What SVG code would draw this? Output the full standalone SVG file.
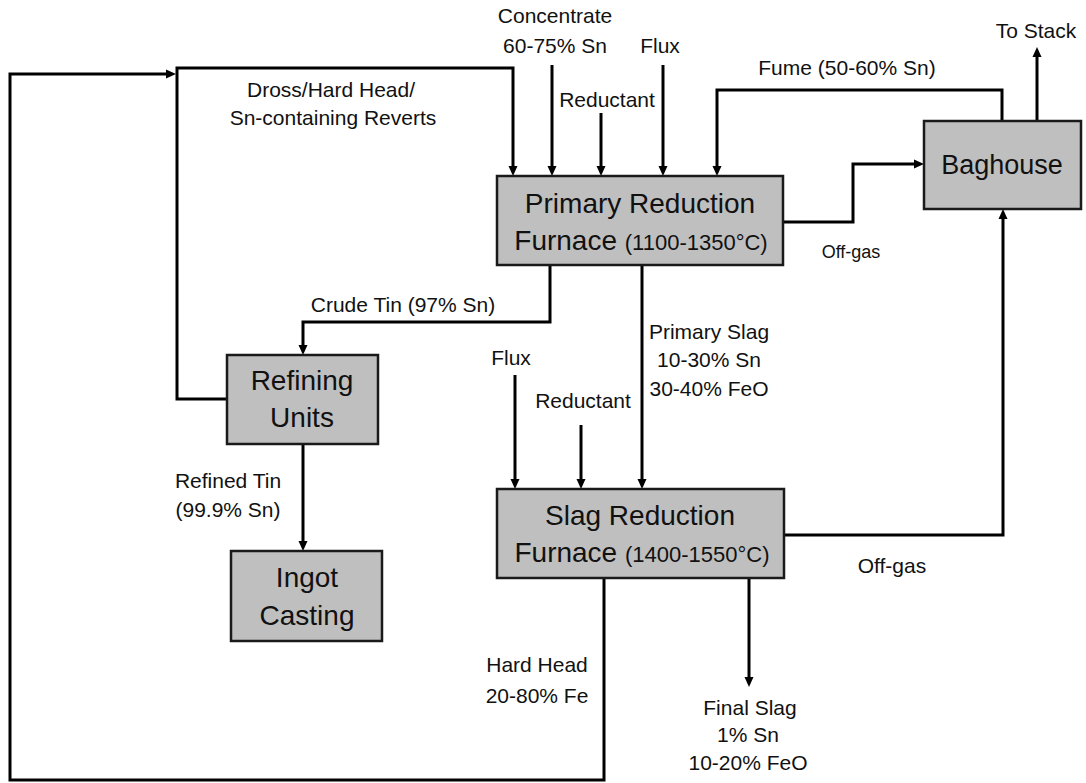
<svg xmlns="http://www.w3.org/2000/svg" width="1086" height="783" viewBox="0 0 1086 783">
<style>
.box{fill:#bfbfbf;stroke:#1a1a1a;stroke-width:2.5}
.t{font-family:"Liberation Sans",Arial,sans-serif;fill:#111;text-anchor:middle}
.bt{font-size:28px}
.sm{font-size:22px}
.lb{font-size:21px}
.og{font-size:18px}
.c{fill:none;stroke:#000;stroke-width:3;marker-end:url(#ah)}
.n{fill:none;stroke:#000;stroke-width:3}
</style>
<defs>
<marker id="ah" viewBox="0 0 10 10" refX="4" refY="5" markerWidth="10" markerHeight="10" markerUnits="userSpaceOnUse" orient="auto">
<path d="M0,0.5 L10,5 L0,9.5 z" fill="#000"/>
</marker>
</defs>
<rect width="1086" height="783" fill="#fff"/>
<g id="connectors">
<path class="c" d="M604,578 V780 H10 V74 H170"/>
<path class="c" d="M227,399 H177 V68 H513 V170"/>
<path class="c" d="M552,65 V170"/>
<path class="c" d="M601,113 V170"/>
<path class="c" d="M663,65 V170"/>
<path class="c" d="M1002,121 V90 H717 V170"/>
<path class="c" d="M1037,121 V53"/>
<path class="c" d="M783,222 H853 V164 H918"/>
<path class="c" d="M784,535 H1003 V215"/>
<path class="c" d="M550,265 V322 H303 V349"/>
<path class="c" d="M642,265 V483"/>
<path class="c" d="M515,375 V483"/>
<path class="c" d="M581,425 V483"/>
<path class="c" d="M303,444 V545"/>
<path class="c" d="M749,578 V681"/>
</g>
<g id="labels">
<text class="t lb" x="555" y="23">Concentrate</text>
<text class="t lb" x="555" y="53">60-75% Sn</text>
<text class="t lb" x="660" y="53">Flux</text>
<text class="t lb" x="607" y="107">Reductant</text>
<text class="t lb" x="847" y="75">Fume (50-60% Sn)</text>
<text class="t lb" x="1036" y="38">To Stack</text>
<text class="t og" x="851" y="258">Off-gas</text>
<text class="t lb" x="331" y="97">Dross/Hard Head/</text>
<text class="t lb" x="333" y="125">Sn-containing Reverts</text>
<text class="t lb" x="403" y="312">Crude Tin (97% Sn)</text>
<text class="t lb" x="709" y="339">Primary Slag</text>
<text class="t lb" x="709" y="367">10-30% Sn</text>
<text class="t lb" x="709" y="396">30-40% FeO</text>
<text class="t lb" x="511" y="365">Flux</text>
<text class="t lb" x="583" y="408">Reductant</text>
<text class="t lb" x="228" y="488">Refined Tin</text>
<text class="t lb" x="228" y="517">(99.9% Sn)</text>
<text class="t lb" x="537" y="672">Hard Head</text>
<text class="t lb" x="537" y="703">20-80% Fe</text>
<text class="t lb" x="750" y="715">Final Slag</text>
<text class="t lb" x="748" y="742">1% Sn</text>
<text class="t lb" x="748" y="770">10-20% FeO</text>
<text class="t lb" x="892" y="573">Off-gas</text>
</g>
<g id="primary">
<rect class="box" x="497" y="176" width="286" height="89"/>
<text class="t bt" x="640" y="213">Primary Reduction</text>
<text class="t bt" x="641" y="250">Furnace <tspan class="sm">(1100-1350°C)</tspan></text>
</g>
<g id="slag">
<rect class="box" x="497" y="489" width="287" height="89"/>
<text class="t bt" x="640" y="525">Slag Reduction</text>
<text class="t bt" x="642" y="562">Furnace <tspan class="sm">(1400-1550°C)</tspan></text>
</g>
<g id="baghouse">
<rect class="box" x="924" y="121" width="157" height="88"/>
<text class="t" style="font-size:27px" x="1002" y="174">Baghouse</text>
</g>
<g id="refining">
<rect class="box" x="227" y="355" width="151" height="89"/>
<text class="t bt" x="302" y="390">Refining</text>
<text class="t bt" x="302" y="427">Units</text>
</g>
<g id="ingot">
<rect class="box" x="231" y="551" width="151" height="90"/>
<text class="t bt" x="307" y="587">Ingot</text>
<text class="t bt" x="307" y="625">Casting</text>
</g>
</svg>
